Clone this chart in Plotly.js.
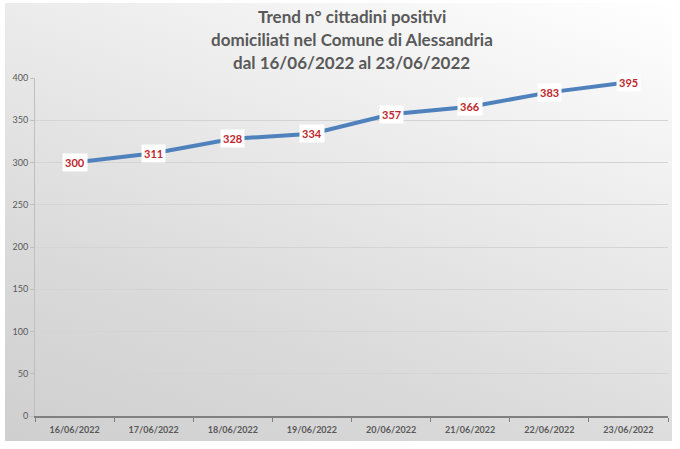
<!DOCTYPE html>
<html>
<head>
<meta charset="utf-8">
<script src="https://cdn.plot.ly/plotly-3.0.1.min.js"></script>
<style>
html,body{margin:0;padding:0;background:#ffffff;width:680px;height:449px;overflow:hidden;}
#bg{position:absolute;left:5px;top:3px;width:667px;height:438px;background:linear-gradient(200deg,#ffffff 0%,#ececec 35%,#dadada 70%,#cfcfcf 100%);}
#chart{position:absolute;left:0;top:0;width:680px;height:449px;}
</style>
</head>
<body>
<div id="bg"></div>
<div id="chart"></div>
<script>
const categories = ["16/06/2022","17/06/2022","18/06/2022","19/06/2022","20/06/2022","21/06/2022","22/06/2022","23/06/2022"];
const positivi = [300, 311, 328, 334, 357, 366, 383, 395];
const yTicks = [0, 50, 100, 150, 200, 250, 300, 350, 400];
const titleLines = ["Trend n° cittadini positivi", "domiciliati nel Comune di Alessandria", "dal 16/06/2022 al 23/06/2022"];
const titleLineY = [1.181, 1.113, 1.047];

const trace = {
  x: categories,
  y: positivi,
  type: "scatter",
  mode: "lines",
  line: {color: "#4f81bd", width: 4},
  hoverinfo: "x+y"
};

const labelAnnotations = categories.map((c, i) => ({
  x: c, y: positivi[i], xref: "x", yref: "y",
  text: "<b>" + positivi[i] + "</b>",
  showarrow: false,
  bgcolor: "#ffffff",
  borderpad: 2,
  font: {family: "Lato, 'Open Sans', sans-serif", size: 11, color: "#c0272d"}
}));

const titleAnnotations = titleLines.map((t, i) => ({
  x: 0.5, y: titleLineY[i], xref: "paper", yref: "paper",
  xanchor: "center", yanchor: "middle",
  text: "<b>" + t + "</b>",
  showarrow: false,
  font: {family: "Lato, 'Open Sans', sans-serif", size: 17, color: "#595959"}
}));

const layout = {
  width: 680, height: 449,
  paper_bgcolor: "rgba(0,0,0,0)",
  plot_bgcolor: "rgba(0,0,0,0)",
  margin: {l: 35, r: 12, t: 78, b: 33},
  showlegend: false,
  xaxis: {
    type: "category",
    range: [-0.5, 7.5],
    tickson: "boundaries",
    ticks: "outside", ticklen: 4, tickcolor: "#7f7f7f",
    showline: true, linecolor: "#808080", linewidth: 2,
    showgrid: false,
    ticklabelstandoff: 4,
    tickfont: {family: "Lato, 'Open Sans', sans-serif", size: 9, color: "#595959", weight: "bold"},
    fixedrange: true
  },
  yaxis: {
    range: [0, 400],
    tickvals: yTicks,
    ticks: "outside", ticklen: 4, tickcolor: "#bfbfbf",
    showline: true, linecolor: "#bfbfbf", linewidth: 1,
    showgrid: true, gridcolor: "#d4d4d4", gridwidth: 1,
    zeroline: false,
    tickfont: {family: "Lato, 'Open Sans', sans-serif", size: 9, color: "#595959"},
    fixedrange: true
  },
  annotations: titleAnnotations.concat(labelAnnotations)
};

Plotly.newPlot("chart", [trace], layout, {displayModeBar: false, staticPlot: true});
</script>
</body>
</html>
